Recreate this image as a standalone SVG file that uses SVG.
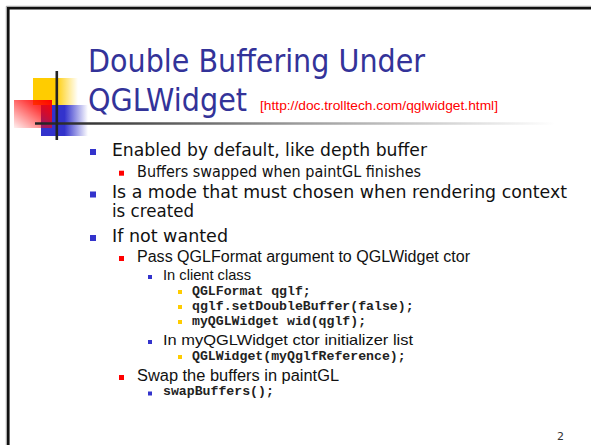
<svg xmlns="http://www.w3.org/2000/svg" width="591" height="445" viewBox="0 0 591 445">
<defs>
<linearGradient id="gYellow" x1="0" y1="0" x2="1" y2="0">
<stop offset="0" stop-color="#FFCC00"/><stop offset="0.5" stop-color="#FFCC00"/><stop offset="1" stop-color="#FFCC00" stop-opacity="0"/>
</linearGradient>
<linearGradient id="gBlue" x1="0" y1="0" x2="1" y2="0">
<stop offset="0" stop-color="#3333CC"/><stop offset="0.5" stop-color="#3333CC"/><stop offset="1" stop-color="#3333CC" stop-opacity="0"/>
</linearGradient>
<linearGradient id="gRed" x1="1" y1="0" x2="0" y2="1">
<stop offset="0" stop-color="#FF0000"/><stop offset="0.35" stop-color="#FF0000" stop-opacity="0.75"/><stop offset="1" stop-color="#FF0000" stop-opacity="0.06"/>
</linearGradient>
<linearGradient id="gRule" gradientUnits="userSpaceOnUse" x1="35" y1="0" x2="555" y2="0">
<stop offset="0" stop-color="#222222"/><stop offset="0.12" stop-color="#3a3a3a"/><stop offset="0.5" stop-color="#9a9a9a"/><stop offset="1" stop-color="#ffffff"/>
</linearGradient>
</defs>
<style>
.title{font-family:"DejaVu Sans",Verdana,sans-serif;font-size:32px;fill:#333399}
.url{font-family:"Liberation Sans",Arial,sans-serif;font-size:12.5px;fill:#FF0000}
.l1{font-family:"DejaVu Sans",Verdana,sans-serif;font-size:18px;fill:#111111}
.l2t{font-family:"DejaVu Sans",Verdana,sans-serif;font-size:15px;fill:#111111}
.l2{font-family:"Liberation Sans",Arial,sans-serif;font-size:16px;fill:#111111}
.l3{font-family:"Liberation Sans",Arial,sans-serif;font-size:15px;fill:#111111}
.mono{font-family:"Liberation Mono","Courier New",monospace;font-size:13.2px;font-weight:bold;fill:#222222}
.pg{font-family:"DejaVu Sans",Verdana,sans-serif;font-size:11px;fill:#333333}
.b1{fill:#3333CC}
.b2{fill:#FF0000}
.b3{fill:#3333CC}
.b4{fill:#FFCC00}
</style>
<rect width="591" height="445" fill="#ffffff"/>
<g id="frame">
<line x1="6.3" y1="6.3" x2="591" y2="6.3" stroke="#999999" stroke-width="1"/>
<line x1="6.3" y1="6.3" x2="6.3" y2="445" stroke="#999999" stroke-width="1"/>
<line x1="7" y1="8.2" x2="591" y2="8.2" stroke="#111111" stroke-width="2.6"/>
<line x1="8.3" y1="7" x2="8.3" y2="445" stroke="#111111" stroke-width="2.6"/>
</g>
<g id="logo">
<rect x="33" y="78" width="45" height="27" fill="url(#gYellow)"/>
<rect x="41" y="105" width="47" height="31" fill="url(#gBlue)"/>
<rect x="14" y="100" width="38" height="28" fill="url(#gRed)"/>
<line x1="35" y1="123.5" x2="555" y2="123.5" stroke="url(#gRule)" stroke-width="2.6"/>
<line x1="56.8" y1="71" x2="56.8" y2="140" stroke="#222222" stroke-width="2.6"/>
</g>
<g id="title">
<text class="title" x="88" y="72" textLength="337" lengthAdjust="spacingAndGlyphs">Double Buffering Under</text>
<text class="title" x="88" y="111" textLength="159" lengthAdjust="spacingAndGlyphs">QGLWidget</text>
<text class="url" x="260" y="110" textLength="238" lengthAdjust="spacingAndGlyphs">[http://doc.trolltech.com/qglwidget.html]</text>
</g>
<g id="bullets">
<rect class="b1" x="90" y="149" width="6" height="6"/>
<text class="l1" x="112" y="156" textLength="315" lengthAdjust="spacingAndGlyphs">Enabled by default, like depth buffer</text>
<rect class="b2" x="119" y="170.7" width="5" height="5"/>
<text class="l2t" x="137" y="177" textLength="284" lengthAdjust="spacingAndGlyphs">Buffers swapped when paintGL finishes</text>
<rect class="b1" x="90" y="191.5" width="6" height="6"/>
<text class="l1" x="112" y="198.3" textLength="455" lengthAdjust="spacingAndGlyphs">Is a mode that must chosen when rendering context</text>
<text class="l1" x="112" y="217" textLength="82" lengthAdjust="spacingAndGlyphs">is created</text>
<rect class="b1" x="90" y="235" width="6" height="6"/>
<text class="l1" x="112" y="242" textLength="116" lengthAdjust="spacingAndGlyphs">If not wanted</text>
<rect class="b2" x="119" y="256" width="5" height="5"/>
<text class="l2" x="137" y="262" textLength="333" lengthAdjust="spacingAndGlyphs">Pass QGLFormat argument to QGLWidget ctor</text>
<rect class="b3" x="148" y="275" width="4" height="4"/>
<text class="l3" x="163" y="280" textLength="88" lengthAdjust="spacingAndGlyphs">In client class</text>
<rect class="b4" x="178" y="290" width="4" height="4"/>
<text class="mono" x="192" y="295">QGLFormat qglf;</text>
<rect class="b4" x="178" y="305" width="4" height="4"/>
<text class="mono" x="192" y="310">qglf.setDoubleBuffer(false);</text>
<rect class="b4" x="178" y="320" width="4" height="4"/>
<text class="mono" x="192" y="325">myQGLWidget wid(qglf);</text>
<rect class="b3" x="148" y="340" width="4" height="4"/>
<text class="l3" x="163" y="345" textLength="250" lengthAdjust="spacingAndGlyphs">In myQGLWidget ctor initializer list</text>
<rect class="b4" x="178" y="355" width="4" height="4"/>
<text class="mono" x="192" y="360">QGLWidget(myQglfReference);</text>
<rect class="b2" x="119" y="375" width="5" height="5"/>
<text class="l2" x="137" y="381" textLength="202" lengthAdjust="spacingAndGlyphs">Swap the buffers in paintGL</text>
<rect class="b3" x="148" y="391.5" width="4" height="4"/>
<text class="mono" x="163" y="395">swapBuffers();</text>
</g>
<g id="page">
<text class="pg" x="557" y="440">2</text>
</g>
</svg>
